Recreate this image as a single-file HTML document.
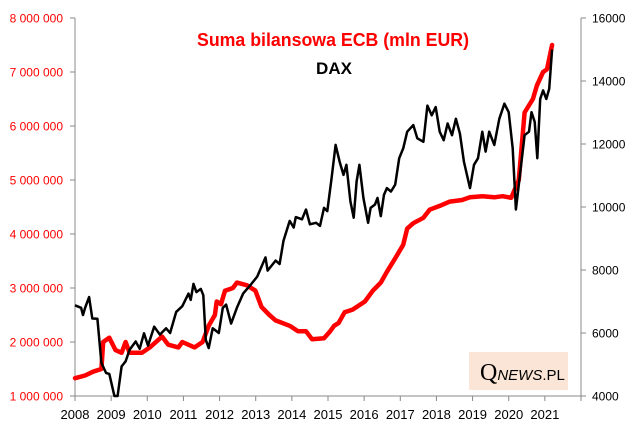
<!DOCTYPE html>
<html><head><meta charset="utf-8"><style>
body{margin:0;background:#fff;}
svg{display:block;font-family:"Liberation Sans",sans-serif;}
</style></head><body>
<svg id="chart" width="635" height="432" viewBox="0 0 635 432" xmlns="http://www.w3.org/2000/svg">
<rect x="469" y="352" width="99" height="38" fill="#fbe5d6"/>
<text x="480" y="380" font-family="Liberation Serif,serif" font-size="24" fill="#000">Q<tspan font-family="Liberation Sans,sans-serif" font-size="15" font-style="italic">NEWS</tspan><tspan font-family="Liberation Sans,sans-serif" font-size="15">.PL</tspan></text>
<text x="333" y="46" text-anchor="middle" font-size="18" font-weight="bold" fill="#ff0000" textLength="272" lengthAdjust="spacingAndGlyphs">Suma bilansowa  ECB (mln EUR)</text>
<text x="334" y="74" text-anchor="middle" font-size="17" font-weight="bold" fill="#000">DAX</text>
<g id="axes"></g>
<g id="series"></g>
</svg>
<script>
const xTicks=[2008,2009,2010,2011,2012,2013,2014,2015,2016,2017,2018,2019,2020,2021];
const leftTicks=[1000000,2000000,3000000,4000000,5000000,6000000,7000000,8000000];
const leftTickLabels=["1 000 000","2 000 000","3 000 000","4 000 000","5 000 000","6 000 000","7 000 000","8 000 000"];
const rightTicks=[4000,6000,8000,10000,12000,14000,16000];
const ecbDates=[2008.0,2008.28,2008.5,2008.73,2008.78,2008.95,2009.12,2009.29,2009.4,2009.51,2009.85,2010.07,2010.41,2010.58,2010.86,2010.97,2011.31,2011.53,2011.7,2011.87,2011.92,2012.04,2012.15,2012.37,2012.48,2012.76,2012.99,2013.16,2013.38,2013.55,2013.94,2014.17,2014.39,2014.56,2014.89,2015.06,2015.17,2015.29,2015.46,2015.68,2016.02,2016.24,2016.46,2016.63,2016.86,2017.08,2017.19,2017.36,2017.64,2017.81,2018.09,2018.37,2018.71,2018.93,2019.27,2019.6,2019.83,2020.07,2020.28,2020.44,2020.67,2020.78,2020.95,2021.06,2021.2];
const ecbValues=[1330000,1380000,1450000,1500000,2000000,2080000,1850000,1800000,2000000,1800000,1800000,1900000,2100000,1950000,1900000,2000000,1900000,2000000,2300000,2500000,2750000,2700000,2950000,3000000,3100000,3050000,2950000,2650000,2500000,2400000,2300000,2200000,2200000,2050000,2070000,2200000,2300000,2350000,2550000,2600000,2750000,2950000,3100000,3300000,3550000,3800000,4100000,4200000,4300000,4450000,4520000,4600000,4630000,4680000,4700000,4680000,4700000,4670000,5000000,6250000,6500000,6750000,7000000,7050000,7500000];
const daxDates=[2008,2008.17,2008.22,2008.28,2008.39,2008.48,2008.62,2008.73,2008.86,2008.95,2009.09,2009.18,2009.29,2009.4,2009.51,2009.68,2009.79,2009.91,2010.02,2010.19,2010.35,2010.52,2010.63,2010.8,2010.97,2011.14,2011.2,2011.28,2011.36,2011.48,2011.55,2011.62,2011.7,2011.81,2011.98,2012.09,2012.18,2012.32,2012.48,2012.65,2012.88,2013.04,2013.27,2013.33,2013.55,2013.66,2013.77,2013.94,2014.05,2014.11,2014.28,2014.39,2014.5,2014.67,2014.78,2014.89,2014.98,2015.1,2015.21,2015.32,2015.43,2015.51,2015.62,2015.71,2015.79,2015.87,2015.98,2016.11,2016.18,2016.3,2016.37,2016.46,2016.55,2016.63,2016.74,2016.86,2016.97,2017.08,2017.19,2017.36,2017.47,2017.64,2017.75,2017.87,2017.98,2018.09,2018.2,2018.31,2018.43,2018.54,2018.65,2018.76,2018.93,2019.04,2019.15,2019.27,2019.36,2019.46,2019.6,2019.74,2019.88,2020.0,2020.11,2020.2,2020.3,2020.44,2020.56,2020.63,2020.72,2020.79,2020.87,2020.95,2021.04,2021.12,2021.2];
const daxValues=[6880,6800,6570,6800,7140,6460,6450,5050,4730,4700,4000,4000,4940,5100,5470,5730,5500,5990,5600,6200,5950,6150,6000,6670,6850,7250,7050,7560,7300,7400,7200,5780,5520,6150,6000,6800,6900,6300,6800,7250,7560,7790,8400,7980,8300,8190,8930,9560,9350,9680,9610,9920,9450,9500,9400,9970,9870,10920,11970,11440,11020,11340,10180,9660,10810,11340,10290,9500,9970,10080,10290,9710,10390,10600,10490,10710,11550,11860,12390,12600,12180,12070,13220,12910,13170,12390,12120,12650,12280,12800,12330,11440,10600,11340,11550,12390,11760,12390,11970,12800,13280,13010,11860,9920,10920,12280,12390,13010,12700,11550,13430,13700,13430,13750,15000];

const X0=75,X1=581,YT=18,YB=396;
const xs=t=>X0+(t-2008)/(2022-2008)*(X1-X0);
const yl=v=>YB-(v-1000000)/(8000000-1000000)*(YB-YT);
const yr=v=>YB-(v-4000)/(16000-4000)*(YB-YT);
const NS="http://www.w3.org/2000/svg";
function mk(tag,attrs,parent,text){const e=document.createElementNS(NS,tag);for(const k in attrs)e.setAttribute(k,attrs[k]);if(text!==undefined)e.textContent=text;parent.appendChild(e);return e;}
const axes=document.getElementById('axes'),series=document.getElementById('series');
let e;
e=mk('line',{x1:X0,y1:YT,x2:X0,y2:YB,stroke:'#888','stroke-width':1},axes);


e=mk('line',{x1:X1,y1:YT,x2:X1,y2:YB,stroke:'#888','stroke-width':1},axes);


e=mk('line',{x1:X0,y1:YB,x2:X1,y2:YB,stroke:'#888','stroke-width':1},axes);


leftTicks.forEach((v,i)=>{
 const y=yl(v);
 e=mk('line',{x1:X0-5,y1:y,x2:X0,y2:y,stroke:'#888'},axes);
 
 
 e=mk('text',{x:63,y:y+4.5,'text-anchor':'end','font-size':12,fill:'#ff0000'},axes,leftTickLabels[i]);
 
 
});
rightTicks.forEach(v=>{
 const y=yr(v);
 e=mk('line',{x1:X1,y1:y,x2:X1+5,y2:y,stroke:'#888'},axes);
 
 
 e=mk('text',{x:592,y:y+4.5,'font-size':12,fill:'#000'},axes,String(v));
 
 
});
xTicks.concat([2022]).forEach(t=>{
 const x=xs(t);
 e=mk('line',{x1:x,y1:YB,x2:x,y2:YB+5,stroke:'#888'},axes);
 
 
});
xTicks.forEach(t=>{
 e=mk('text',{x:xs(t),y:419,'text-anchor':'middle','font-size':13,fill:'#000'},axes,String(t));
 
 
});
const daxPts=daxDates.map((t,i)=>xs(t).toFixed(1)+','+Math.min(YB+4,yr(daxValues[i])).toFixed(1)).join(' ');
const ecbPts=ecbDates.map((t,i)=>xs(t).toFixed(1)+','+yl(ecbValues[i]).toFixed(1)).join(' ');
e=mk('polyline',{points:ecbPts,fill:'none',stroke:'#ff0000','stroke-width':4.5,'stroke-linejoin':'round','stroke-linecap':'round'},series);


e=mk('polyline',{points:daxPts,fill:'none',stroke:'#000','stroke-width':2.5,'stroke-linejoin':'round'},series);


</script>
</body></html>
